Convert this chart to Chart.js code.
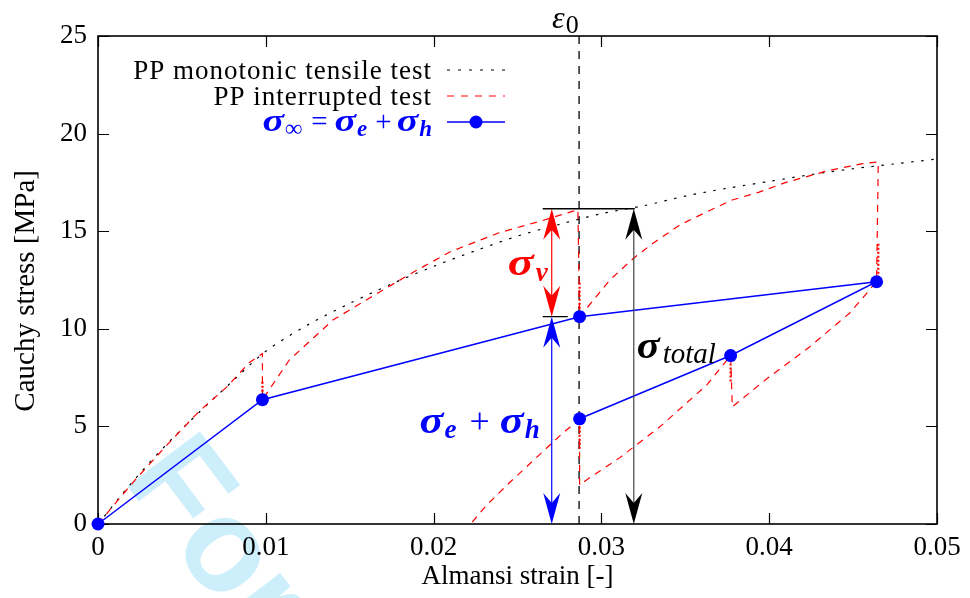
<!DOCTYPE html>
<html>
<head>
<meta charset="utf-8">
<script src="https://cdn.jsdelivr.net/npm/chart.js@4.4.0/dist/chart.umd.min.js"></script>
<style>
html, body { margin: 0; padding: 0; background: #fff; }
canvas { display: block; }
</style>
</head>
<body>
<canvas id="grafico" width="970" height="598"></canvas>
<script>
// ensayo de traccion monotono (PP)
var monoStrain = [0, 0.002, 0.004, 0.006, 0.008, 0.010, 0.0125, 0.015, 0.0175, 0.020, 0.0225, 0.025,
                  0.0275, 0.030, 0.0325, 0.035, 0.0375, 0.040, 0.0425, 0.045, 0.0475, 0.050]
var monoStress = [0, 2.1, 4.0, 5.7, 7.3, 8.85, 10.2, 11.3, 12.3, 13.2, 14.0, 14.75,
                  15.35, 15.9, 16.3, 16.8, 17.2, 17.55, 17.9, 18.2, 18.45, 18.7]

// ensayo interrumpido: carga / relajacion / descarga / recuperacion
var interStrain = [0, 0.002, 0.004, 0.006, 0.0077, 0.009, 0.0098,
                   0.0098, 0.0114, 0.014, 0.017, 0.019, 0.021, 0.0239, 0.0265, 0.0286,
                   0.0287, 0.0292, 0.0305, 0.0319, 0.0331, 0.0347, 0.0363, 0.0378, 0.0394, 0.041, 0.0435, 0.0455, 0.0465,
                   0.0464, 0.0448, 0.0424, 0.0398, 0.0378,
                   0.0377, 0.0363, 0.0335, 0.0311, 0.0293, 0.0287,
                   0.0287, 0.0275, 0.026, 0.0245, 0.0232, 0.0223]
var interStress = [0, 2.05, 3.95, 5.75, 7.04, 8.26, 8.73,
                   6.37, 8.4, 10.45, 12.0, 13.0, 13.95, 14.92, 15.55, 16.1,
                   10.62, 11.13, 12.5, 13.6, 14.4, 15.33, 16.0, 16.6, 17.0, 17.5, 18.1, 18.45, 18.55,
                   12.41, 10.81, 9.07, 7.4, 6.0,
                   8.63, 7.14, 4.99, 3.4, 2.37, 2.0,
                   5.39, 4.5, 3.3, 2.1, 1.0, 0.1]

// tramos finales de relajacion (puntos muy densos)
var relaxStrain = [0.0098, 0.0098, null, 0.0287, 0.0287, null, 0.0465, 0.0465, null, 0.0377, 0.0377, null, 0.0287, 0.0287]
var relaxStress = [6.37, 7.3, null, 10.62, 12.4, null, 12.41, 14.4, null, 8.63, 7.3, null, 5.39, 3.8]

// sigma_inf = sigma_e + sigma_h
var sigInfStrain = [0, 0.0098, 0.0287, 0.0464, 0.0377, 0.0287]
var sigInfStress = [0, 6.37, 10.62, 12.41, 8.63, 5.39]

// anotaciones
var eps0 = 0.02867
var arrowSplitX = 0.02704
var arrowTotalX = 0.03193
var stressTotal = 16.15
var stressInf = 10.62

var xTicks = [0, 0.01, 0.02, 0.03, 0.04, 0.05]
var xTickLabels = ['0', '0.01', '0.02', '0.03', '0.04', '0.05']
var yTicks = [0, 5, 10, 15, 20, 25]
var yTickLabels = ['0', '5', '10', '15', '20', '25']

var SERIF = '"Liberation Serif", "Times New Roman", serif'

function toPoints(xs, ys) {
   var pts = []
   for (var i = 0; i < xs.length; i++) {
      pts.push({x: xs[i], y: ys[i]})
   }
   return pts
}

// dibuja trozos de texto (simbolos, subindices) seguidos
function drawRuns(ctx, runs, x, yBase, align) {
   var total = 0
   runs.forEach(function (r) { ctx.font = r.font; total += ctx.measureText(r.t).width * (r.sx || 1) + (r.gap || 0) })
   var cx = align === 'right' ? x - total : x
   ctx.textAlign = 'left'
   ctx.textBaseline = 'alphabetic'
   runs.forEach(function (r) {
      ctx.font = r.font
      ctx.fillStyle = r.color
      ctx.save()
      ctx.translate(cx, yBase + (r.dy || 0))
      ctx.scale(r.sx || 1, 1)
      ctx.fillText(r.t, 0, 0)
      ctx.restore()
      cx += ctx.measureText(r.t).width * (r.sx || 1) + (r.gap || 0)
   })
}

// punta de flecha con muesca, dir = -1 apunta hacia arriba, 1 hacia abajo
function arrowHead(ctx, x, y, dir, color) {
   var len = 31, half = 8.5, notch = 21
   ctx.beginPath()
   ctx.moveTo(x, y)
   ctx.lineTo(x - half, y - dir * len)
   ctx.lineTo(x, y - dir * notch)
   ctx.lineTo(x + half, y - dir * len)
   ctx.closePath()
   ctx.fillStyle = color
   ctx.fill()
}

function doubleArrow(ctx, x, yTop, yBottom, color, shaft) {
   ctx.strokeStyle = shaft
   ctx.lineWidth = 1.2
   ctx.setLineDash([])
   ctx.beginPath()
   ctx.moveTo(x, yTop + 20)
   ctx.lineTo(x, yBottom - 20)
   ctx.stroke()
   arrowHead(ctx, x, yTop, -1, color)
   arrowHead(ctx, x, yBottom, 1, color)
}

var marcaAgua = {
   id: 'marcaAgua',
   beforeDraw: function (chart) {
      var ctx = chart.ctx
      ctx.save()
      ctx.translate(122, 479)
      ctx.rotate(53 * Math.PI / 180)
      ctx.font = 'bold 132px "Liberation Sans", Arial, sans-serif'
      ctx.fillStyle = '#cdeefb'
      ctx.textBaseline = 'alphabetic'
      ctx.fillText('For Peer Review', 0, 0)
      ctx.restore()
   }
}

var marco = {
   id: 'marco',
   beforeDatasetsDraw: function (chart) {
      var ctx = chart.ctx
      var a = chart.chartArea
      var sx = chart.scales.x, sy = chart.scales.y
      ctx.save()
      ctx.strokeStyle = '#000'
      ctx.lineWidth = 1.2
      ctx.beginPath()
      xTicks.forEach(function (v) {
         var px = Math.round(sx.getPixelForValue(v)) + 0.5
         ctx.moveTo(px, a.bottom); ctx.lineTo(px, a.bottom - 11)
         ctx.moveTo(px, a.top); ctx.lineTo(px, a.top + 11)
      })
      yTicks.forEach(function (v) {
         var py = Math.round(sy.getPixelForValue(v)) + 0.5
         ctx.moveTo(a.left, py); ctx.lineTo(a.left + 11, py)
         ctx.moveTo(a.right, py); ctx.lineTo(a.right - 11, py)
      })
      ctx.stroke()
      ctx.lineWidth = 1.6
      ctx.strokeRect(a.left, a.top, a.right - a.left, a.bottom - a.top)

      // linea vertical en eps0
      var ex = sx.getPixelForValue(eps0)
      ctx.lineWidth = 1.3
      ctx.setLineDash([8, 7])
      ctx.beginPath()
      ctx.moveTo(ex, a.top)
      ctx.lineTo(ex, a.bottom)
      ctx.stroke()
      ctx.restore()
   }
}

var anotaciones = {
   id: 'anotaciones',
   afterDatasetsDraw: function (chart) {
      var ctx = chart.ctx
      var sx = chart.scales.x, sy = chart.scales.y
      var xs = sx.getPixelForValue(arrowSplitX)
      var xt = sx.getPixelForValue(arrowTotalX)
      var yT = sy.getPixelForValue(stressTotal)
      var yI = sy.getPixelForValue(stressInf)
      var y0 = sy.getPixelForValue(0)
      ctx.save()

      ctx.strokeStyle = '#000'
      ctx.lineWidth = 1.3
      ctx.beginPath()
      ctx.moveTo(xs - 9, yT); ctx.lineTo(xt + 1, yT)
      ctx.moveTo(xs - 9, yI); ctx.lineTo(xs + 16, yI)
      ctx.stroke()

      doubleArrow(ctx, xs, yT, yI, '#ff0000', '#ff0000')
      doubleArrow(ctx, xs, yI, y0, '#0000ff', '#0000ff')
      doubleArrow(ctx, xt, yT, y0, '#000', '#444')

      var bsig = 'bold italic 37px ' + SERIF
      var sub = 'bold italic 27px ' + SERIF

      drawRuns(ctx, [
         {t: 'σ', font: bsig, color: '#ff0000', sx: 1.3, gap: 2},
         {t: 'v', font: sub, color: '#ff0000', dy: 6}
      ], xs - 4, (yT + yI) / 2 + 12, 'right')

      drawRuns(ctx, [
         {t: 'σ', font: bsig, color: '#0000ff', sx: 1.2, gap: 1},
         {t: 'e', font: sub, color: '#0000ff', dy: 5, gap: 13},
         {t: '+', font: '36px ' + SERIF, color: '#0000ff', gap: 10},
         {t: 'σ', font: bsig, color: '#0000ff', sx: 1.2, gap: 1},
         {t: 'h', font: sub, color: '#0000ff', dy: 5}
      ], xs - 12, sy.getPixelForValue(5.3) + 12, 'right')

      drawRuns(ctx, [
         {t: 'σ', font: bsig, color: '#000', sx: 1.15, gap: 3},
         {t: 'total', font: 'italic 29px ' + SERIF, color: '#000', dy: 5}
      ], xt + 3, sy.getPixelForValue(9.1) + 12, 'left')

      var ex = sx.getPixelForValue(eps0)
      drawRuns(ctx, [
         {t: 'ε', font: 'italic 32px ' + SERIF, color: '#000', gap: 1},
         {t: '0', font: '26px ' + SERIF, color: '#000', dy: 5}
      ], ex - 27, 28, 'left')

      // leyenda
      ctx.letterSpacing = '1px'
      var lx = 432
      drawRuns(ctx, [{t: 'PP monotonic tensile test', font: '27px ' + SERIF, color: '#000'}], lx, 79, 'right')
      drawRuns(ctx, [{t: 'PP interrupted test', font: '27px ' + SERIF, color: '#000'}], lx, 105, 'right')
      ctx.letterSpacing = '0px'
      var lsig = 'bold italic 32px ' + SERIF
      var lsub = 'bold italic 23px ' + SERIF
      drawRuns(ctx, [
         {t: 'σ', font: lsig, color: '#0000ff', sx: 1.25, gap: 1},
         {t: '∞', font: 'bold 24px ' + SERIF, color: '#0000ff', dy: 5, gap: 9},
         {t: '=', font: '29px ' + SERIF, color: '#0000ff', gap: 7},
         {t: 'σ', font: lsig, color: '#0000ff', sx: 1.25, gap: 1},
         {t: 'e', font: lsub, color: '#0000ff', dy: 5, gap: 8},
         {t: '+', font: '29px ' + SERIF, color: '#0000ff', gap: 5},
         {t: 'σ', font: lsig, color: '#0000ff', sx: 1.25, gap: 1},
         {t: 'h', font: lsub, color: '#0000ff', dy: 5}
      ], lx, 131, 'right')

      var s0 = 447, s1 = 505
      ctx.lineWidth = 1.2
      ctx.strokeStyle = '#000'
      ctx.setLineDash([3, 8])
      ctx.beginPath(); ctx.moveTo(s0, 70); ctx.lineTo(s1, 70); ctx.stroke()
      ctx.strokeStyle = '#ff0000'
      ctx.setLineDash([7, 7])
      ctx.beginPath(); ctx.moveTo(s0, 96); ctx.lineTo(s1, 96); ctx.stroke()
      ctx.strokeStyle = '#0000ff'
      ctx.setLineDash([])
      ctx.lineWidth = 1.5
      ctx.beginPath(); ctx.moveTo(s0, 122); ctx.lineTo(s1, 122); ctx.stroke()
      ctx.fillStyle = '#0000ff'
      ctx.beginPath(); ctx.arc((s0 + s1) / 2, 122, 6.5, 0, Math.PI * 2); ctx.fill()

      ctx.restore()
   }
}

var ctx = document.getElementById('grafico').getContext('2d')

var grafico = new Chart(ctx, {
   type: 'scatter',
   data: {
      datasets: [
         {
            label: 'PP monotonic tensile test',
            data: toPoints(monoStrain, monoStress),
            showLine: true,
            order: 3,
            borderColor: '#000',
            borderWidth: 1.2,
            borderDash: [2.5, 7.5],
            pointRadius: 0,
            tension: 0.3
         },
         {
            label: 'PP interrupted test',
            data: toPoints(interStrain, interStress),
            showLine: true,
            order: 2,
            borderColor: '#ff0000',
            borderWidth: 1.2,
            borderDash: [7, 6],
            pointRadius: 0,
            tension: 0
         },
         {
            label: 'relajacion',
            data: toPoints(relaxStrain, relaxStress),
            showLine: true,
            order: 1,
            spanGaps: false,
            borderColor: '#ff0000',
            borderWidth: 2.2,
            borderDash: [2, 2],
            pointRadius: 0
         },
         {
            label: 'sigma_inf',
            data: toPoints(sigInfStrain, sigInfStress),
            showLine: true,
            order: 0,
            clip: false,
            borderColor: '#0000ff',
            backgroundColor: '#0000ff',
            pointBackgroundColor: '#0000ff',
            pointBorderColor: '#0000ff',
            borderWidth: 1.5,
            pointRadius: 6.5,
            pointBorderWidth: 0,
            tension: 0
         }
      ]
   },
   options: {
      responsive: false,
      animation: false,
      devicePixelRatio: 1,
      layout: { padding: { left: 0, top: 36, right: 33, bottom: 0 } },
      plugins: {
         legend: { display: false },
         tooltip: { enabled: false }
      },
      scales: {
         x: {
            type: 'linear',
            min: 0,
            max: 0.05,
            afterBuildTicks: function (s) { s.ticks = xTicks.map(function (v) { return {value: v} }) },
            afterFit: function (s) { s.height = 74 },
            ticks: {
               color: '#000',
               padding: 8,
               font: { family: SERIF, size: 27 },
               callback: function (v) { return xTickLabels[xTicks.indexOf(v)] },
               maxRotation: 0
            },
            grid: { display: false, drawTicks: false },
            border: { display: false },
            title: {
               display: true,
               text: 'Almansi strain [-]',
               color: '#000',
               font: { family: SERIF, size: 27 },
               padding: { top: 0, bottom: 5 }
            }
         },
         y: {
            type: 'linear',
            min: 0,
            max: 25,
            afterBuildTicks: function (s) { s.ticks = yTicks.map(function (v) { return {value: v} }) },
            afterFit: function (s) { s.width = 98 },
            ticks: {
               color: '#000',
               padding: 11,
               font: { family: SERIF, size: 27 },
               callback: function (v) { return yTickLabels[yTicks.indexOf(v)] }
            },
            grid: { display: false, drawTicks: false },
            border: { display: false },
            title: {
               display: true,
               text: 'Cauchy stress [MPa]\u00a0\u00a0\u00a0',
               color: '#000',
               font: { family: SERIF, size: 29 },
               padding: { top: 9, bottom: 0 }
            }
         }
      }
   },
   plugins: [marcaAgua, marco, anotaciones]
})
</script>
</body>
</html>
